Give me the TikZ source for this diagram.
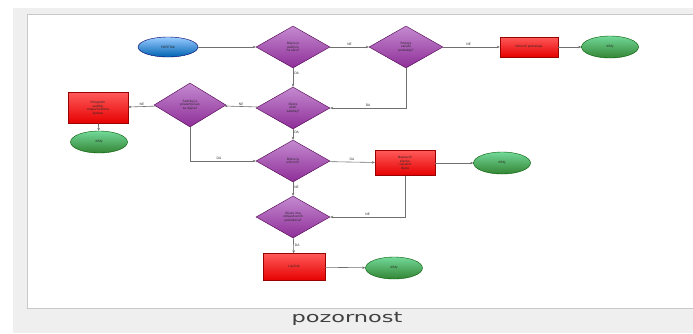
\documentclass[tikz,border=0pt]{standalone}
\usepackage{fontspec}
\setmainfont{DejaVu Sans}
\usetikzlibrary{shapes.geometric,arrows.meta}
\definecolor{framegray}{HTML}{EFEFEF}
\definecolor{borderg}{HTML}{C8C8C8}
\definecolor{linegray}{HTML}{707070}
\definecolor{purplelight}{HTML}{C48AD0}
\definecolor{purpledark}{HTML}{8E2E98}
\tikzset{
  tiny/.style={font=\fontsize{3}{3.5}\selectfont, align=center, text=black!85},
  dec/.style={diamond, tiny, minimum width=74pt, minimum height=42pt, inner sep=0pt,
    draw=violet!60!black, line width=0.4pt, top color=purplelight, bottom color=purpledark},
  proc/.style={rectangle, tiny, minimum width=60pt, minimum height=24pt, inner sep=1pt,
    draw=red!60!black, line width=0.4pt, top color=red!65, bottom color=red!90!black},
  term/.style={ellipse, tiny, minimum width=57pt, minimum height=22pt, inner sep=0pt,
    draw=green!35!black, line width=0.4pt, top color=green!45!teal!55, bottom color=green!40!black!80},
  startn/.style={ellipse, tiny, minimum width=60pt, minimum height=20pt, inner sep=0pt,
    draw=blue!40!black, line width=0.4pt, top color=cyan!50!blue!40, bottom color=blue!45!cyan!70!black},
  conn/.style={draw=linegray, line width=0.6pt, -{Stealth[length=3pt,width=2.5pt]}},
  lab/.style={font=\fontsize{3.2}{3.5}\selectfont, text=black!80, inner sep=1pt}
}
\begin{document}
\begin{tikzpicture}[x=1pt,y=-1pt]
\useasboundingbox (0,0) rectangle (693,333);
\fill[white] (0,0) rectangle (693,333);
\fill[framegray] (13,8) rectangle (693,333);
\fill[white] (27,14) rectangle (693,308);
\draw[borderg, line width=0.8pt] (27,308) -- (27,14) -- (693,14);
\draw[borderg, line width=1pt] (27,308) -- (693,308);
\node[font=\fontsize{14.5}{17}\selectfont, text=black!75, xscale=1.55] (cap) at (347,319) {pozornost};

% nodes
\node[startn] (s) at (168,47) {POČETAK};
\node[dec] (d1) at (293,47) {Dijete je\\pažljivo\\na satu?};
\node[dec] (d2) at (406,47) {Postoje\\vanjski\\podražaji?};
\node[proc, minimum width=58pt, minimum height=20pt] (r1) at (529,47) {Ukloniti podražaje};
\node[term] (e1) at (610,47) {KRAJ};
\node[dec] (d3) at (293,108) {Dijete\\prati\\sadržaj?};
\node[dec, minimum width=72pt, minimum height=44pt] (d4) at (190,105) {Sadržaj je\\prezahtjevan\\za dijete?};
\node[proc, minimum height=31pt] (r2) at (98,108) {Prilagoditi\\sadržaj\\mogućnostima\\djeteta};
\node[term] (e2) at (99,142) {KRAJ};
\node[dec] (d5) at (293,161) {Dijete je\\umorno?};
\node[proc, minimum height=25pt] (r3) at (405,163) {Napraviti\\stanku\\i opustiti\\dijete};
\node[term] (e3) at (502,163) {KRAJ};
\node[dec] (d6) at (293,217) {Dijete ima\\zdravstvenih\\poteškoća?};
\node[proc, minimum width=62pt, minimum height=27pt] (r4) at (294,267) {Liječnik};
\node[term] (e4) at (394,268) {KRAJ};

% connectors
\draw[conn] (s) -- (d1);
\draw[conn] (d1) -- node[lab, above] {NE} (d2);
\draw[conn] (d2) -- node[lab, above, pos=0.45] {NE} (r1);
\draw[conn] (r1) -- (e1);
\draw[conn] (d1) -- node[lab, right, pos=0.3] {DA} (d3);
\draw[conn] (d2.south) |- node[lab, above, pos=0.75] {DA} (d3.east);
\draw[conn] (d3) -- node[lab, above] {NE} (d4);
\draw[conn] (d4) -- node[lab, above] {NE} (r2);
\draw[conn] (r2) -- (e2);
\draw[conn] (d4.south) |- node[lab, above, pos=0.72] {DA} (d5.west);
\draw[conn] (d3) -- node[lab, right, pos=0.3] {DA} (d5);
\draw[conn] (d5) -- node[lab, above] {DA} (r3);
\draw[conn] (r3) -- (e3);
\draw[conn] (d5) -- node[lab, right, pos=0.35] {NE} (d6);
\draw[conn] (r3.south) |- node[lab, above, pos=0.75] {NE} (d6.east);
\draw[conn] (d6) -- node[lab, right, pos=0.45] {DA} (r4);
\draw[conn] (r4) -- (e4);
\end{tikzpicture}
\end{document}
